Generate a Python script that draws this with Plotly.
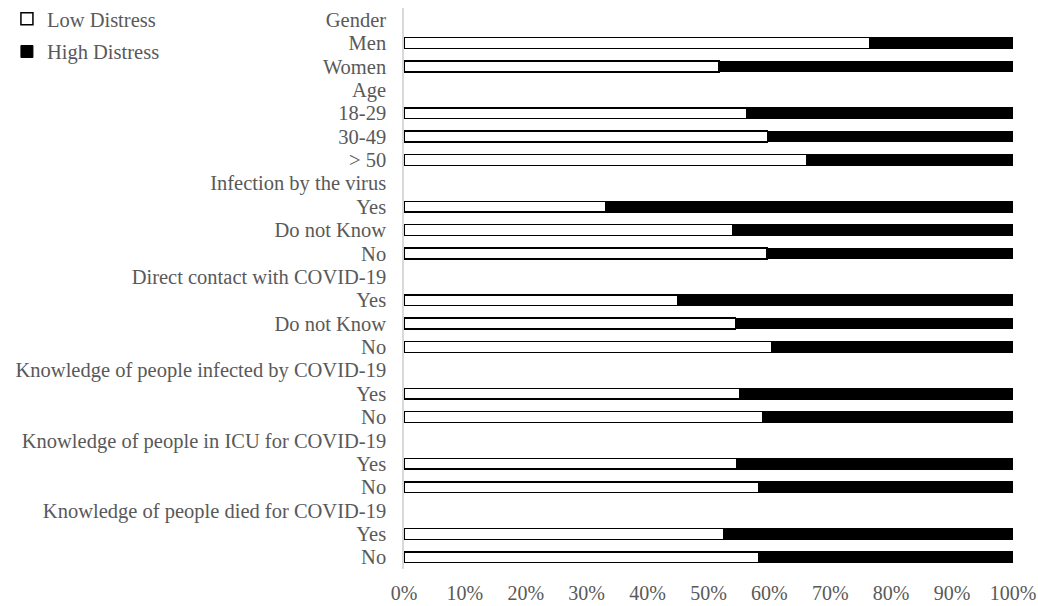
import plotly.graph_objects as go

# Row labels (top to bottom); header rows carry no bars
row_labels = ["Gender", "Men", "Women",
              "Age", "18-29", "30-49", "> 50",
              "Infection by the virus", "Yes", "Do not Know", "No",
              "Direct contact with COVID-19", "Yes", "Do not Know", "No",
              "Knowledge of people infected by COVID-19", "Yes", "No",
              "Knowledge of people in ICU for COVID-19", "Yes", "No",
              "Knowledge of people died for COVID-19", "Yes", "No"]
# Low distress share (%) per row; None for header rows
low_distress = [None, 76.5, 51.7,
                None, 56.3, 59.7, 66.2,
                None, 33.2, 54.0, 59.6,
                None, 45.0, 54.4, 60.4,
                None, 55.2, 58.9,
                None, 54.7, 58.3,
                None, 52.5, 58.3]
high_distress = [None if v is None else round(100 - v, 1) for v in low_distress]
x_ticks = list(range(0, 101, 10))

rows = list(range(len(row_labels)))
bar_rows = [r for r in rows if low_distress[r] is not None]

FONT = "Liberation Serif, Times New Roman, serif"
GREY = "#595959"
FS = 20.5

fig = go.Figure()
fig.add_trace(go.Bar(
    y=bar_rows, x=[low_distress[r] for r in bar_rows], orientation="h",
    name="Low Distress", legendgroup="low",
    marker=dict(color="white", line=dict(color="black", width=1.5)),
    width=0.46,
))
fig.add_trace(go.Bar(
    y=bar_rows, x=[high_distress[r] for r in bar_rows], orientation="h",
    name="High Distress", legendgroup="high",
    marker=dict(color="black", line=dict(color="black", width=1)),
    width=0.46,
))

fig.update_layout(
    width=1038, height=606,
    barmode="stack",
    plot_bgcolor="white", paper_bgcolor="white",
    margin=dict(l=404, r=25, t=8, b=37, autoexpand=False),
    font=dict(family=FONT, size=FS, color=GREY),
    legend=dict(x=-0.652, y=1.016, xanchor="left", yanchor="top",
                traceorder="grouped", tracegroupgap=3,
                itemwidth=30, bgcolor="rgba(0,0,0,0)",
                font=dict(family=FONT, size=FS, color=GREY)),
    xaxis=dict(range=[0, 100], tickvals=x_ticks,
               ticktext=[f"{t}%" for t in x_ticks],
               tickfont=dict(size=20),
               showgrid=False, zeroline=False, showline=False,
               ticks="", ticklabelstandoff=10, fixedrange=True),
    yaxis=dict(range=[len(rows) - 0.5, -0.5], tickvals=rows, ticktext=row_labels,
               showgrid=False, zeroline=False, showline=True,
               linecolor="#d9d9d9", linewidth=1.5, ticks="",
               ticklabelstandoff=12, fixedrange=True),
)

# remove the default page margin so the 1038x606 figure fills the window exactly
fig.write_html("out.html", config={"displayModeBar": False},
               post_script="document.body.style.margin='0px';")
